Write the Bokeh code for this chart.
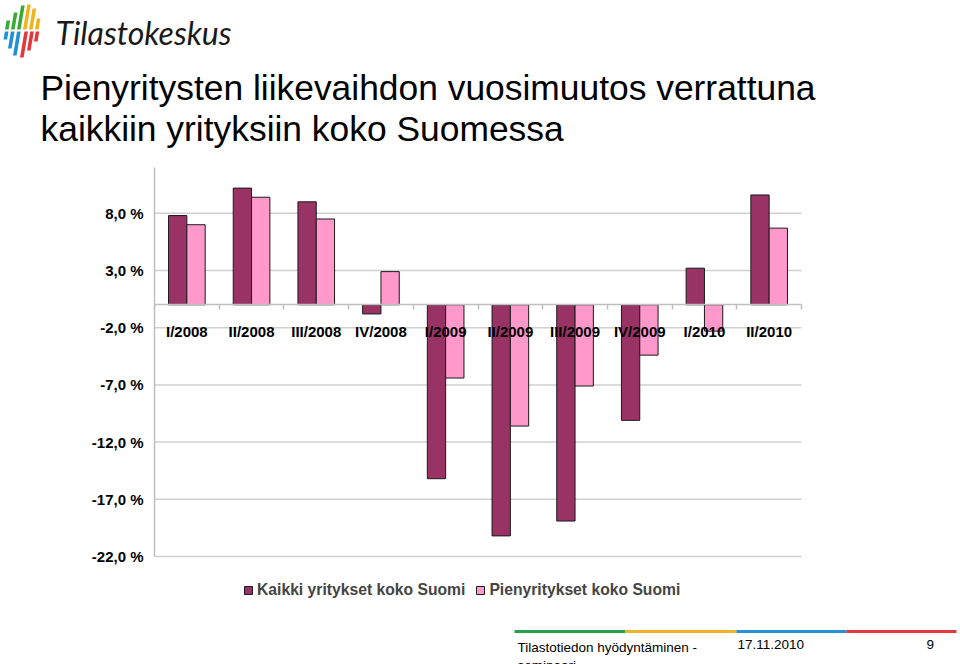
from bokeh.plotting import figure
from bokeh.models import (Range1d, ColumnDataSource, FixedTicker, CustomJSTickFormatter,
                          Legend, LegendItem, LinearAxis)
from bokeh.transform import dodge
from bokeh.embed import file_html
from bokeh.resources import INLINE
from bokeh.core.properties import value

# ---------------- data ----------------
categories = ["I/2008", "II/2008", "III/2008", "IV/2008", "I/2009",
              "II/2009", "III/2009", "IV/2009", "I/2010", "II/2010"]
kaikki = [7.8, 10.2, 9.0, -0.8, -15.2, -20.2, -18.9, -10.1, 3.2, 9.6]
pieny = [7.0, 9.4, 7.5, 2.9, -6.4, -10.6, -7.1, -4.4, -2.3, 6.7]
series_names = ["Kaikki yritykset koko Suomi", "Pienyritykset koko Suomi"]
series_colors = ["#993366", "#FF99CC"]
y_ticks = [-22, -17, -12, -7, -2, 3, 8]
y_min, y_max = -22, 12
title_lines = ["Pienyritysten liikevaihdon vuosimuutos verrattuna",
               "kaikkiin yrityksiin koko Suomessa"]
logo_text = "Tilastokeskus"
footer_texts = ["Tilastotiedon hyödyntäminen -\nseminaari", "17.11.2010", "9"]

FONT = "Liberation Sans"
GRID = "#d0d0d0"
AXIS = "#bfbfbf"

# ---------------- page geometry ----------------
OFF = 0                      # canvas origin on the page
CW, CH = 960, 664            # canvas size
FL, FR, FT, FB = 154, 801, 167, 556   # plot area on the page
N = len(categories)
SX = (FR - FL) / N
SY = (FB - FT) / (y_max - y_min)


def X(px):
    return (px - FL) / SX


def Y(py):
    return y_max - (py - FT) / SY


p = figure(width=CW, height=CH,
           x_range=Range1d(X(OFF), X(OFF + CW)), y_range=Range1d(Y(OFF + CH), Y(OFF)),
           output_backend="svg", toolbar_location=None,
           x_axis_location=None, y_axis_location=None, min_border=0)
p.grid.visible = False
p.outline_line_color = None

# ---------------- chart ----------------
centers = [i + 0.5 for i in range(N)]
bounds_x = [float(i) for i in range(N + 1)]
src = ColumnDataSource(dict(xc=centers, kaikki=kaikki, pieny=pieny))

# horizontal gridlines at the y ticks, limited to the category span
p.segment(x0=[0] * len(y_ticks), x1=[N] * len(y_ticks), y0=y_ticks, y1=y_ticks,
          line_color=GRID, line_width=1.5)

r1 = p.vbar(x=dodge("xc", -0.1415), top="kaikki", bottom=0, width=0.283, source=src,
            fill_color=series_colors[0], line_color="#1a1a1a", line_width=1)
r2 = p.vbar(x=dodge("xc", 0.1415), top="pieny", bottom=0, width=0.283, source=src,
            fill_color=series_colors[1], line_color="#1a1a1a", line_width=1)

yax = LinearAxis(fixed_location=0, bounds=(y_min, y_max),
                 ticker=FixedTicker(ticks=y_ticks),
                 formatter=CustomJSTickFormatter(
                     code="return tick.toFixed(1).replace('.', ',') + ' %';"),
                 axis_line_color=AXIS, axis_line_width=1.5,
                 major_tick_line_color=None, minor_tick_line_color=None,
                 major_tick_in=0, major_tick_out=0, minor_tick_in=0, minor_tick_out=0,
                 major_label_standoff=11, major_label_text_font=FONT,
                 major_label_text_font_style="bold", major_label_text_font_size="15px",
                 major_label_text_color="#000000")
p.add_layout(yax, "left")

xax = LinearAxis(fixed_location=0, bounds=(0, N),
                 ticker=FixedTicker(ticks=centers, minor_ticks=bounds_x),
                 formatter=CustomJSTickFormatter(args=dict(cats=categories),
                                                 code="return cats[Math.floor(tick)];"),
                 axis_line_color=AXIS, axis_line_width=1.5,
                 major_tick_line_color=None, major_tick_in=0, major_tick_out=0,
                 minor_tick_line_color=AXIS, minor_tick_line_width=1.5,
                 minor_tick_in=0, minor_tick_out=5,
                 major_label_standoff=13, major_label_text_font=FONT,
                 major_label_text_font_style="bold", major_label_text_font_size="15px",
                 major_label_text_color="#000000")
p.add_layout(xax, "below")

legend = Legend(items=[LegendItem(label=series_names[0], renderers=[r1]),
                       LegendItem(label=series_names[1], renderers=[r2])],
                orientation="horizontal", location=(243 - OFF, OFF + CH - 599),
                glyph_width=10, glyph_height=10, label_standoff=4, spacing=10,
                padding=0, margin=0, border_line_color=None, background_fill_alpha=0,
                label_text_font=FONT, label_text_font_style="bold",
                label_text_font_size="15.7px", label_height=16)
p.add_layout(legend)

# ---------------- header: logo + title ----------------
def stripe(xb, ytop, ybot, w=3.6, s=0.17):
    d = s * (ybot - ytop)
    return ([X(xb), X(xb + w), X(xb + w + d), X(xb + d)],
            [Y(ybot), Y(ybot), Y(ytop), Y(ytop)])


logo_specs = [
    (4.5, 20, 29, "#3aa935"), (10.5, 12, 29, "#3aa935"), (16.5, 5, 29, "#3aa935"),
    (22.5, 4, 29, "#f2b41c"), (28.5, 8, 29, "#f2b41c"), (34.5, 18, 29, "#f2b41c"),
    (3.0, 31, 39, "#1f8fd8"), (7.5, 31, 48, "#1f8fd8"), (12.5, 31, 55, "#1f8fd8"),
    (19.5, 31, 57, "#e2383b"), (26.5, 31, 50, "#e2383b"), (33.5, 31, 41, "#e2383b"),
]
lx, ly, lc = [], [], []
for xb, yt, yb, c in logo_specs:
    a, b = stripe(xb, yt, yb)
    lx.append(a); ly.append(b); lc.append(c)
p.patches(xs=lx, ys=ly, fill_color=lc, line_color=None)

p.text(x=[X(55)], y=[Y(32)], text=[logo_text], text_font=value("Lato"),
       text_font_style="italic", text_font_size="32px", text_color="#1a1a1a",
       text_baseline="alphabetic")
p.text(x=[X(40), X(40)], y=[Y(87), Y(128)], text=title_lines, text_font=value(FONT),
       text_font_size="35.4px", text_color="#000000", text_baseline="alphabetic")

# ---------------- footer ----------------
rule_x = [514, 625, 736, 846, 956]
rule_colors = ["#2aa04a", "#f0b323", "#2b8fd6", "#e0393e"]
p.segment(x0=[X(v) for v in rule_x[:-1]], x1=[X(v) for v in rule_x[1:]],
          y0=[Y(631)] * 4, y1=[Y(631)] * 4, line_color=rule_colors, line_width=3)
p.text(x=[X(517), X(737), X(926)], y=[Y(639)] * 3, text=footer_texts,
       text_font=value(FONT), text_font_size="13.5px", text_color="#000000",
       text_baseline="top")

open("out.html", "w").write(file_html(p, INLINE))
